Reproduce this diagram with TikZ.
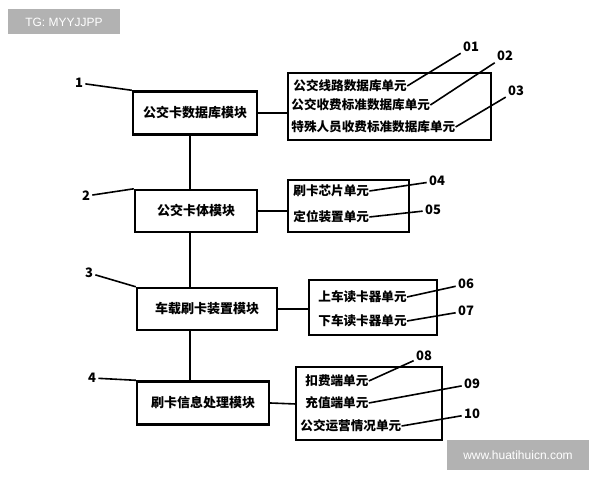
\documentclass[tikz,border=0pt]{standalone}
\usepackage{fontspec}
\setmainfont{Noto Sans CJK SC}
\newfontfamily\wmfont{Liberation Sans}
\usetikzlibrary{positioning}
\tikzset{
  module/.style={draw, very thick, inner sep=0pt, font=\fontsize{6.5}{7.5}\selectfont\bfseries},
  unitbox/.style={draw, thick},
  unittext/.style={anchor=west, inner sep=0pt, font=\fontsize{6.3}{7}\selectfont\bfseries},
  numlabel/.style={inner sep=1pt, font=\fontsize{6.5}{7}\selectfont\bfseries},
  leader/.style={thick},
  wmark/.style={fill=black!30, text=white, font=\wmfont\fontsize{6}{7}\selectfont}
}
\begin{document}
\begin{tikzpicture}[x=0.5pt,y=-0.5pt]
\useasboundingbox (0,0) rectangle (600,480);
% watermarks
\node[wmark, minimum width=56pt, minimum height=12.5pt] (tg) at (64,22) {TG: MYYJJPP};
\node[wmark, minimum width=71pt, minimum height=15pt] (www) at (518,455) {www.huatihuicn.com};

% modules
\node[module, minimum width=62pt, minimum height=21.5pt] (m1) at (195,113) {公交卡数据库模块};
\node[module, minimum width=61pt, minimum height=21pt] (m2) at (196,211) {公交卡体模块};
\node[module, minimum width=70pt, minimum height=21pt] (m3) at (207,309) {车载刷卡装置模块};
\node[module, minimum width=66pt, minimum height=21.5pt] (m4) at (203,403) {刷卡信息处理模块};

% spine
\draw[thick] (190,135) -- (190,190) (190,232) -- (190,288) (190,330) -- (190,382);

% unit boxes
\draw[unitbox] (288,73) rectangle (491,140);
\draw[unitbox] (288,180) rectangle (409,232);
\draw[unitbox] (309,280) rectangle (437,335);
\draw[unitbox] (296,367) rectangle (442,440);
\coordinate (u1) at (288,113);
\coordinate (u2) at (288,211);
\coordinate (u3) at (309,309);
\coordinate (u4) at (296,404);
\draw[thick] (m1.east) -- (u1);
\draw[thick] (m2.east) -- (u2);
\draw[thick] (m3.east) -- (u3);
\draw[thick] (m4.east) -- (u4);

% unit texts
\node[unittext] (t01) at (293,86) {公交线路数据库单元};
\node[unittext] (t02) at (291,105) {公交收费标准数据库单元};
\node[unittext] (t03) at (291,127) {特殊人员收费标准数据库单元};
\node[unittext] (t04) at (293,191) {刷卡芯片单元};
\node[unittext] (t05) at (293,217) {定位装置单元};
\node[unittext] (t06) at (318,297) {上车读卡器单元};
\node[unittext] (t07) at (318,321) {下车读卡器单元};
\node[unittext] (t08) at (305,381) {扣费端单元};
\node[unittext] (t09) at (305,403) {充值端单元};
\node[unittext] (t10) at (300,426) {公交运营情况单元};

% numbers
\node[numlabel] (n1) at (79,83) {1};
\node[numlabel] (n2) at (86,196) {2};
\node[numlabel] (n3) at (89,273) {3};
\node[numlabel] (n4) at (92,378) {4};
\node[numlabel] (n01) at (471,47) {01};
\node[numlabel] (n02) at (505,56) {02};
\node[numlabel] (n03) at (516,91) {03};
\node[numlabel] (n04) at (437,181) {04};
\node[numlabel] (n05) at (433,210) {05};
\node[numlabel] (n06) at (466,284) {06};
\node[numlabel] (n07) at (466,311) {07};
\node[numlabel] (n08) at (424,356) {08};
\node[numlabel] (n09) at (472,384) {09};
\node[numlabel] (n10) at (472,414) {10};

% leaders
\draw[leader] (n1) -- (m1.north west);
\draw[leader] (n2) -- (m2.north west);
\draw[leader] (n3) -- (m3.north west);
\draw[leader] (n4) -- (m4.north west);
\draw[leader] (n01) -- (t01.east);
\draw[leader] (n02) -- (t02.east);
\draw[leader] (n03) -- (t03.east);
\draw[leader] (n04) -- (t04.east);
\draw[leader] (n05) -- (t05.east);
\draw[leader] (n06) -- (t06.east);
\draw[leader] (n07) -- (t07.east);
\draw[leader] (n08) -- (t08.east);
\draw[leader] (n09) -- (t09.east);
\draw[leader] (n10) -- (t10.east);
\end{tikzpicture}
\end{document}
